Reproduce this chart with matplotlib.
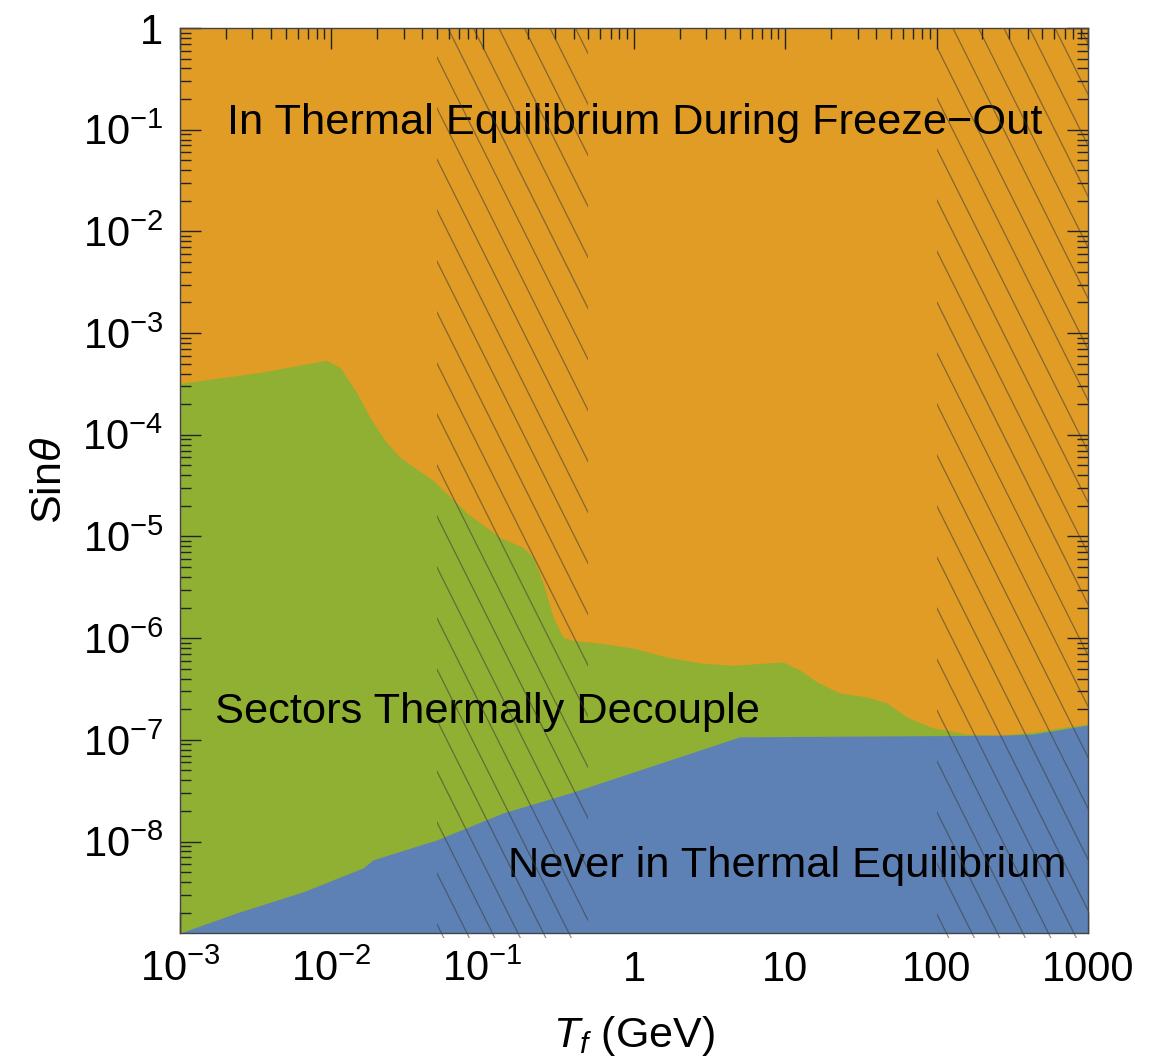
import numpy as np
import matplotlib
matplotlib.use("Agg")
import matplotlib.pyplot as plt
from matplotlib.lines import Line2D
from matplotlib.patches import Rectangle
from matplotlib.transforms import blended_transform_factory
from matplotlib.ticker import FixedLocator, LogLocator, NullFormatter

plt.rcParams['font.family'] = ['Liberation Sans', 'DejaVu Sans']
plt.rcParams['mathtext.fontset'] = 'custom'
plt.rcParams['mathtext.rm'] = 'Liberation Sans'
plt.rcParams['mathtext.it'] = 'Liberation Sans:italic'
plt.rcParams['xtick.direction'] = 'in'
plt.rcParams['ytick.direction'] = 'in'

# upper edge of the "sectors thermally decouple" region (orange above)
T_decouple = [1.0e-3, 3.38e-3, 9.2e-3, 1.14e-2, 1.48e-2, 1.80e-2, 2.26e-2, 2.84e-2,
              4.70e-2, 7.9e-2, 0.130, 0.185, 0.215, 0.251, 0.292, 0.340, 0.395,
              0.596, 0.984, 1.65, 2.73, 4.51, 7.57, 9.66, 12.5, 16.2, 23.0, 34.7,
              47.0, 63.7, 94.6, 159, 262, 434, 726, 1000]
s_decouple = [3.2e-4, 4.1e-4, 5.4e-4, 4.6e-4, 2.55e-4, 1.48e-4, 8.8e-5, 6.0e-5,
              3.56e-5, 1.69e-5, 9.8e-6, 7.8e-6, 6.25e-6, 3.47e-6, 1.61e-6, 1.02e-6,
              9.5e-7, 8.9e-7, 8.0e-7, 6.5e-7, 5.7e-7, 5.4e-7, 5.7e-7, 5.8e-7,
              4.85e-7, 3.7e-7, 2.88e-7, 2.64e-7, 2.30e-7, 1.67e-7, 1.31e-7,
              1.14e-7, 1.11e-7, 1.19e-7, 1.34e-7, 1.43e-7]

# upper edge of the "never in thermal equilibrium" region
T_never = [1.0e-3, 2.38e-3, 6.5e-3, 1.62e-2, 1.88e-2, 4.99e-2, 0.136, 0.378,
           5.0, 262, 434, 1000]
s_never = [1.26e-9, 1.99e-9, 3.2e-9, 5.5e-9, 6.6e-9, 1.04e-8, 1.91e-8, 3.0e-8,
           1.07e-7, 1.11e-7, 1.14e-7, 1.40e-7]

# hatched temperature bands
hatch_bands = [(0.05, 0.5), (100, 1000)]

xticks = [1e-3, 1e-2, 1e-1, 1, 10, 100, 1000]
xticklabels = [r'$10^{-3}$', r'$10^{-2}$', r'$10^{-1}$', '1', '10', '100', '1000']
yticks = [1e-8, 1e-7, 1e-6, 1e-5, 1e-4, 1e-3, 1e-2, 1e-1, 1]
yticklabels = [r'$10^{-8}$', r'$10^{-7}$', r'$10^{-6}$', r'$10^{-5}$', r'$10^{-4}$',
               r'$10^{-3}$', r'$10^{-2}$', r'$10^{-1}$', '1']

c_blue = '#5E81B5'
c_orange = '#E09C24'
c_green = '#8FB032'

xmin, xmax = 1e-3, 1e3
ymin, ymax = 1.26e-9, 1.0

fig = plt.figure(figsize=(11.68, 10.6), dpi=100)
ax = fig.add_axes([180/1168, 1 - 933/1060, 908/1168, 905/1060])
ax.set_xscale('log')
ax.set_yscale('log')
ax.set_xlim(xmin, xmax)
ax.set_ylim(ymin, ymax)
ax.set_facecolor(c_orange)

ax.fill_between(T_decouple, ymin, s_decouple, color=c_green, lw=0, zorder=1)
ax.fill_between(T_never, ymin, s_never, color=c_blue, lw=0, zorder=2)

fs = 31.2
ax.text(10**-2.69, 10**-1.042, 'In Thermal Equilibrium During Freeze\u2212Out',
        fontsize=fs, ha='left', va='baseline', zorder=3)
ax.text(10**-2.77, 10**-6.832, 'Sectors Thermally Decouple',
        fontsize=fs, ha='left', va='baseline', zorder=3)
ax.text(10**2.861, 10**-8.348, 'Never in Thermal Equilibrium',
        fontsize=fs, ha='right', va='baseline', zorder=3)

# hatching: steep parallel lines, clipped to the bands
W, H = 908.0, 905.0
slope = 2.0
spacing = 51.0
phases = [5.3, 15.3]
tr = blended_transform_factory(ax.transData, ax.transAxes)
for (x0, x1), ph in zip(hatch_bands, phases):
    clip = Rectangle((x0, -0.006), x1 - x0, 1.006, transform=tr,
                     facecolor='none', edgecolor='none')
    for c in np.arange(ph - slope * W - spacing * 2, H + spacing, spacing):
        u = np.array([0.0, 1.0])
        ypx = c + slope * W * u
        v = 1 - ypx / H
        ln = Line2D(u, v, transform=ax.transAxes, color='#3a3a3a', lw=0.9,
                    alpha=0.55, zorder=4)
        ax.add_line(ln)
        ln.set_clip_path(clip)

ax.xaxis.set_major_locator(FixedLocator(xticks))
ax.set_xticklabels(xticklabels)
ax.xaxis.set_minor_locator(LogLocator(base=10, subs=np.arange(2, 10)))
ax.xaxis.set_minor_formatter(NullFormatter())
ax.yaxis.set_major_locator(FixedLocator(yticks))
ax.set_yticklabels(yticklabels)
ax.yaxis.set_minor_locator(LogLocator(base=10, subs=np.arange(2, 10), numticks=20))
ax.yaxis.set_minor_formatter(NullFormatter())

ax.tick_params(which='both', top=True, right=True, color='#222222', width=1.0,
               labelsize=30)
ax.tick_params(which='major', length=15, pad=12)
ax.tick_params(which='minor', length=8)
for sp in ax.spines.values():
    sp.set_color('#444444')
    sp.set_linewidth(1.0)
    sp.set_zorder(5)

ax.set_xlabel(r'$T_f$ (GeV)', fontsize=31, labelpad=17)
ax.set_ylabel(r'Sin$\theta$', fontsize=31, labelpad=9)

fig.savefig('out.png', dpi=100)
